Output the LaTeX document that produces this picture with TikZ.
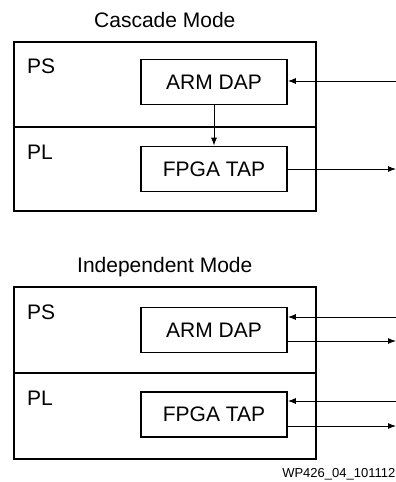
\documentclass[tikz,border=0pt]{standalone}
\usepackage{fontspec}
\setmainfont{Liberation Sans}
\usetikzlibrary{arrows.meta}
\begin{document}
\begin{tikzpicture}[x=1pt,y=-1pt,
  outer/.style={draw,line width=1.6pt},
  inner/.style={draw,line width=1.6pt,minimum width=146pt,minimum height=45pt,inner sep=0pt,font=\fontsize{21}{24}\selectfont},
  lbl/.style={font=\fontsize{21}{24}\selectfont,inner sep=0pt,anchor=base west},
  conn/.style={line width=1pt,-{Latex[length=8pt,width=6pt]}}]
\useasboundingbox (0,0) rectangle (396,482);
% Cascade mode
\node[lbl] (t1) at (94,27) {Cascade Mode};
\draw[outer] (14,42) rectangle (316,211);
\draw[outer] (14,127) -- (316,127);
\node[lbl] (ps1) at (27,73) {PS};
\node[lbl] (pl1) at (27,159) {PL};
\node[inner] (arm1) at (214,82) {ARM DAP};
\node[inner] (fpga1) at (214,169) {FPGA TAP};
\coordinate (in1) at (396,81);
\coordinate (out1) at (396,169);
\draw[conn] (in1) -- (arm1.east |- in1);
\draw[conn] (fpga1.east |- out1) -- (out1);
\draw[conn] (arm1.south) -- (fpga1.north);
% Independent mode
\node[lbl] (t2) at (77,272) {Independent Mode};
\draw[outer] (14,287) rectangle (316,459);
\draw[outer] (14,373) -- (316,373);
\node[lbl] (ps2) at (27,319) {PS};
\node[lbl] (pl2) at (27,405) {PL};
\node[inner] (arm2) at (214,330) {ARM DAP};
\node[inner] (fpga2) at (214,414.5) {FPGA TAP};
\coordinate (in2) at (396,317);
\coordinate (out2) at (396,341);
\coordinate (in3) at (396,401);
\coordinate (out3) at (396,426);
\draw[conn] (in2) -- (arm2.east |- in2);
\draw[conn] (arm2.east |- out2) -- (out2);
\draw[conn] (in3) -- (fpga2.east |- in3);
\draw[conn] (fpga2.east |- out3) -- (out3);
\node[font=\fontsize{13}{15}\selectfont,anchor=base east,inner sep=0pt] (fig) at (395.5,477) {WP426\_04\_101112};
\end{tikzpicture}
\end{document}
